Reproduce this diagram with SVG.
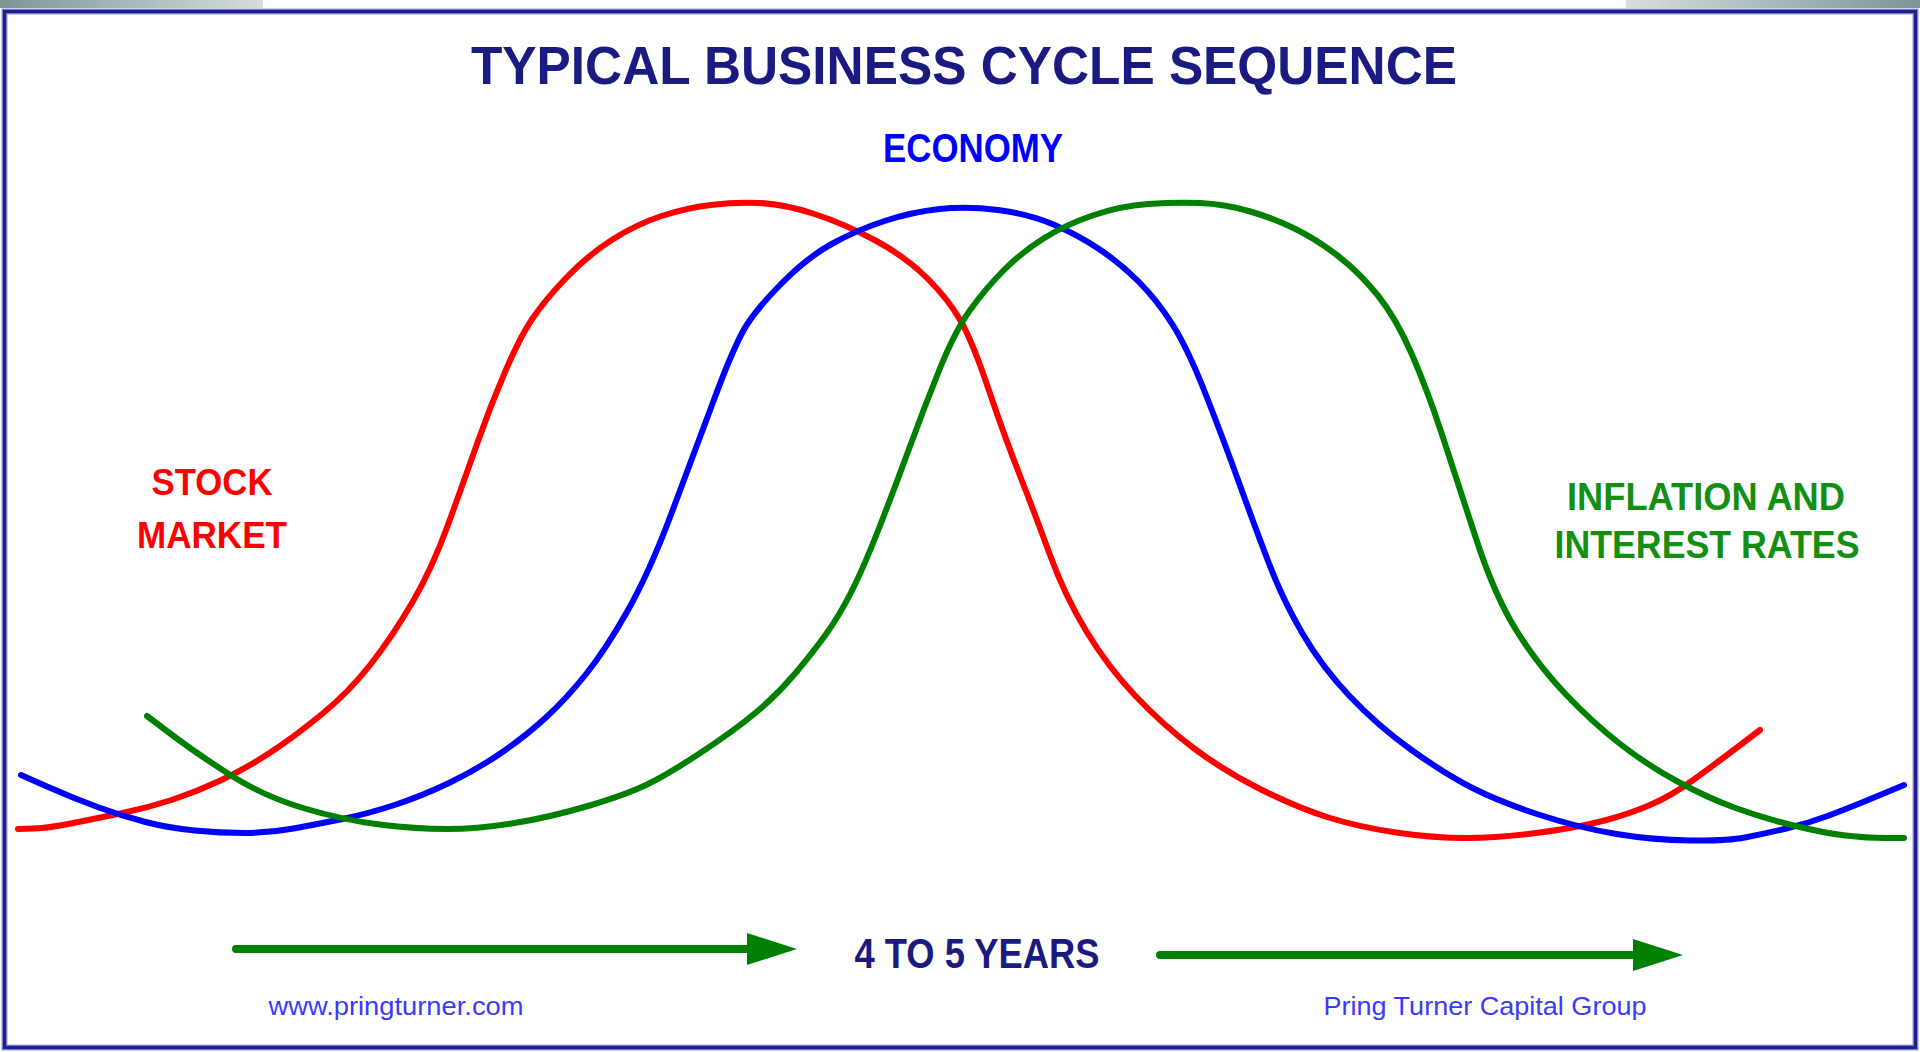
<svg xmlns="http://www.w3.org/2000/svg" width="1920" height="1052" viewBox="0 0 1920 1052">
<defs>
<linearGradient id="gl" x1="0" y1="0" x2="1" y2="0"><stop offset="0" stop-color="#7b9698"/><stop offset="1" stop-color="#d6dddf"/></linearGradient>
<linearGradient id="gr" x1="0" y1="0" x2="1" y2="0"><stop offset="0" stop-color="#d6dddf"/><stop offset="1" stop-color="#7b9698"/></linearGradient>
<marker id="ah" viewBox="0 0 50 32" refX="2" refY="16" markerWidth="50" markerHeight="32" markerUnits="userSpaceOnUse" orient="auto"><path d="M0,0 L50,16 L0,32 Z" fill="#008000"/></marker>
</defs>
<style>
.curve{fill:none;stroke-width:6;stroke-linejoin:round;stroke-linecap:round}
.t{font-family:"Liberation Sans",Arial,sans-serif;font-weight:bold;text-anchor:middle}
.s{font-family:"Liberation Sans",Arial,sans-serif;text-anchor:middle;fill:#3a3aff}
.arrow{stroke:#008000;stroke-width:8;stroke-linecap:round;fill:none}
</style>
<rect x="0" y="0" width="1920" height="1052" fill="#ffffff"/>
<g id="frame">
<rect x="0" y="0" width="263" height="8" fill="url(#gl)"/>
<rect x="1626" y="0" width="294" height="8" fill="url(#gr)"/>
<rect x="4.5" y="11.5" width="1911" height="1036" fill="none" stroke="#9a9ad8" stroke-width="6"/>
<rect x="4.5" y="11.5" width="1911" height="1036" fill="none" stroke="#1e1e8e" stroke-width="3.5"/>
</g>
<g id="title"><text class="t" x="964" y="84" font-size="53" fill="#1a1a80" textLength="986" lengthAdjust="spacingAndGlyphs">TYPICAL BUSINESS CYCLE SEQUENCE</text></g>
<g id="connectors">
<path id="stock-curve" class="curve" stroke="#ff0000" d="M18,829 L33.5,828.5 Q49,828 73.5,823 Q98,818 122.5,813 Q147,808 171.5,800 Q196,792 220.5,780.5 Q245,769 269.5,753 Q294,737 321.5,714.5 Q349,692 370.5,664.5 Q392,637 412,603 Q432,569 448.5,523.5 Q465,478 477.5,442.5 Q490,407 505,372 Q520,337 532.5,318.5 Q545,300 566.5,277.5 Q588,255 612.5,239.5 Q637,224 661.5,216 Q686,208 710.5,205 Q735,202 759.5,203 Q784,204 814.5,214 Q845,224 875.5,240.5 Q906,257 927.5,278.5 Q949,300 961,321.5 Q973,343 988.5,389 Q1004,435 1019.5,474.5 Q1035,514 1050,555 Q1065,596 1086.5,631.5 Q1108,667 1135.5,696 Q1163,725 1193.5,748 Q1224,771 1261,789.5 Q1298,808 1328.5,817.5 Q1359,827 1396,832.5 Q1433,838 1466.5,838 Q1500,838 1540,832.5 Q1580,827 1604.5,820.5 Q1629,814 1650,805 Q1671,796 1692.5,780.5 Q1714,765 1737,747.5 L1760,730"/>
<path id="economy-curve" class="curve" stroke="#0000ff" d="M21,775 L47,786.5 Q73,798 97.5,807 Q122,816 145.5,822 Q169,828 194.5,830.5 Q220,833 244.5,833 Q269,833 293.5,828.5 Q318,824 342.5,819 Q367,814 394.5,805 Q422,796 450,782.5 Q478,769 502.5,752 Q527,735 547,716.5 Q567,698 586.5,673.5 Q606,649 627.5,611 Q649,573 670.5,516 Q692,459 713.5,401 Q735,343 747,324.5 Q759,306 783.5,281.5 Q808,257 832.5,243.5 Q857,230 884.5,221 Q912,212 939.5,209 Q967,206 998,210 Q1029,214 1053.5,224.5 Q1078,235 1099,249 Q1120,263 1138.5,281.5 Q1157,300 1172.5,324.5 Q1188,349 1206,395 Q1224,441 1239.5,484 Q1255,527 1269,563.5 Q1283,600 1302.5,633.5 Q1322,667 1350,696.5 Q1378,726 1411.5,750 Q1445,774 1472.5,788 Q1500,802 1540,815 Q1580,828 1616.5,834 Q1653,840 1690,840.5 Q1727,841 1745,837.5 Q1763,834 1784.5,829 Q1806,824 1827.5,816 Q1849,808 1876.5,796.5 L1904,785"/>
<path id="inflation-curve" class="curve" stroke="#008000" d="M147,716 L171.5,734.5 Q196,753 229.5,774.5 Q263,796 303,808 Q343,820 379.5,824.5 Q416,829 447,829 Q478,829 514.5,823 Q551,817 588,806 Q625,795 646,785 Q667,775 701,752.5 Q735,730 756.5,712 Q778,694 796,672.5 Q814,651 826.5,633.5 Q839,616 851,592.5 Q863,569 878.5,529.5 Q894,490 909,449 Q924,408 939.5,369.5 Q955,331 970.5,309.5 Q986,288 1004,270 Q1022,252 1043.5,238.5 Q1065,225 1092.5,215.5 Q1120,206 1148,204 Q1176,202 1200,203 Q1224,204 1248.5,211 Q1273,218 1294.5,228.5 Q1316,239 1337.5,255.5 Q1359,272 1377.5,295 Q1396,318 1411.5,353.5 Q1427,389 1442,434.5 Q1457,480 1475.5,537 Q1494,594 1515.5,629 Q1537,664 1564.5,693 Q1592,722 1619.5,743.5 Q1647,765 1677.5,781.5 Q1708,798 1735.5,808 Q1763,818 1793.5,825.5 Q1824,833 1845.5,835.5 Q1867,838 1885,838 L1904,838"/>
<line class="arrow" x1="236" y1="949" x2="749" y2="949" marker-end="url(#ah)"/>
<line class="arrow" x1="1160" y1="955" x2="1635" y2="955" marker-end="url(#ah)"/>
</g>
<g id="economy-label"><text class="t" x="973" y="162" font-size="40" fill="#0000ff" textLength="180" lengthAdjust="spacingAndGlyphs">ECONOMY</text></g>
<g id="stock-label">
<text class="t" x="212" y="495" font-size="37" fill="#ff0000" textLength="121" lengthAdjust="spacingAndGlyphs">STOCK</text>
<text class="t" x="212" y="548" font-size="37" fill="#ff0000" textLength="150" lengthAdjust="spacingAndGlyphs">MARKET</text>
</g>
<g id="inflation-label">
<text class="t" x="1706" y="510" font-size="38" fill="#138f13" textLength="278" lengthAdjust="spacingAndGlyphs">INFLATION AND</text>
<text class="t" x="1707" y="558" font-size="38" fill="#138f13" textLength="305" lengthAdjust="spacingAndGlyphs">INTEREST RATES</text>
</g>
<g id="duration-label"><text class="t" x="977" y="968" font-size="42" fill="#1a1a80" textLength="245" lengthAdjust="spacingAndGlyphs">4 TO 5 YEARS</text></g>
<g id="footer">
<text class="s" x="396" y="1015" font-size="26" textLength="255" lengthAdjust="spacingAndGlyphs">www.pringturner.com</text>
<text class="s" x="1485" y="1015" font-size="26" textLength="323" lengthAdjust="spacingAndGlyphs">Pring Turner Capital Group</text>
</g>
</svg>
